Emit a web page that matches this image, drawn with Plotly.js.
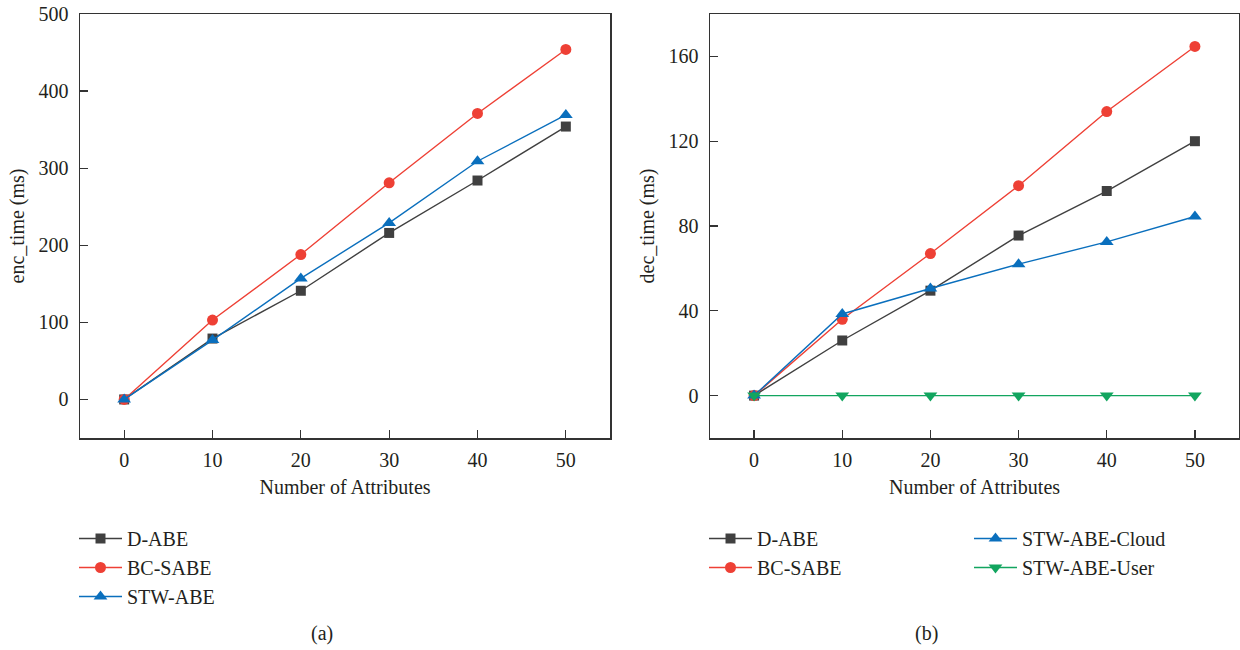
<!DOCTYPE html>
<html>
<head>
<meta charset="utf-8">
<script src="https://cdn.plot.ly/plotly-3.0.1.min.js"></script>
<style>html,body{margin:0;padding:0;background:#fff;}#chart{width:1240px;height:650px;}</style>
</head>
<body>
<div id="chart"></div>
<script>
// ---- data ----
const attributes = [0, 10, 20, 30, 40, 50];

// (a) encryption time (ms)
const encDABE   = [0, 79, 141, 216, 284, 354];
const encBCSABE = [0, 103, 188, 281, 371, 454];
const encSTWABE = [0, 77, 157, 229, 309, 369];

// (b) decryption time (ms)
const decDABE      = [0, 26, 49.5, 75.5, 96.5, 120];
const decBCSABE    = [0, 36, 67, 99, 134, 164.7];
const decSTWCloud  = [0, 38.5, 50.5, 62, 72.5, 84.5];
const decSTWUser   = [0, 0, 0, 0, 0, 0];

const xTickVals = [0, 10, 20, 30, 40, 50];
const encTickVals = [0, 100, 200, 300, 400, 500];
const decTickVals = [0, 40, 80, 120, 160];

// ---- styles ----
const FONT = 'Liberation Serif, Times New Roman, serif';
const TXT = '#231f20';
const cGray = '#404040', cRed = '#ee4035', cBlue = '#0a6fbd', cGreen = '#12a55f';
const lw = 1.4;

function tr(x, y, name, color, symbol, size, xa, ya, legend) {
  return {
    x: x, y: y, name: name, type: 'scatter', mode: 'lines+markers',
    xaxis: xa, yaxis: ya, legend: legend,
    line: {color: color, width: lw},
    marker: {color: color, symbol: symbol, size: size, line: {width: 0}}
  };
}

const data = [
  tr(attributes, encDABE, 'D-ABE', cGray, 'square', 10, 'x', 'y', 'legend'),
  tr(attributes, encBCSABE, 'BC-SABE', cRed, 'circle', 11, 'x', 'y', 'legend'),
  tr(attributes, encSTWABE, 'STW-ABE', cBlue, 'triangle-up', 12, 'x', 'y', 'legend'),
  tr(attributes, decDABE, 'D-ABE', cGray, 'square', 10, 'x2', 'y2', 'legend2'),
  tr(attributes, decBCSABE, 'BC-SABE', cRed, 'circle', 11, 'x2', 'y2', 'legend2'),
  tr(attributes, decSTWCloud, 'STW-ABE-Cloud', cBlue, 'triangle-up', 12, 'x2', 'y2', 'legend3'),
  tr(attributes, decSTWUser, 'STW-ABE-User', cGreen, 'triangle-down', 12, 'x2', 'y2', 'legend3')
];

const W = 1240, TOP = 14, BOT = 438, PH = BOT - TOP;
const py = p => (BOT - p) / PH;

function xAxis(domain, anchor) {
  return {
    domain: domain, anchor: anchor, range: [-5, 55],
    tickvals: xTickVals, ticks: 'inside', ticklen: 8, tickwidth: 1.3, tickcolor: '#333',
    showline: true, linecolor: '#333', linewidth: 1.5, mirror: true,
    showgrid: false, zeroline: false, ticklabelstandoff: 3,
    tickfont: {family: FONT, size: 20, color: TXT},
    title: {text: 'Number of Attributes', font: {family: FONT, size: 20, color: TXT}, standoff: 10}
  };
}
function yAxis(range, tickvals, title, anchor) {
  return {
    anchor: anchor, range: range, tickvals: tickvals,
    ticks: 'inside', ticklen: 8, tickwidth: 1.3, tickcolor: '#333',
    showline: true, linecolor: '#333', linewidth: 1.5, mirror: true,
    showgrid: false, zeroline: false, ticklabelstandoff: 6,
    tickfont: {family: FONT, size: 20, color: TXT},
    title: {text: title, font: {family: FONT, size: 20, color: TXT}, standoff: 8}
  };
}

const legendBase = {
  orientation: 'v', xanchor: 'left', yanchor: 'top',
  font: {family: FONT, size: 20, color: TXT},
  bgcolor: 'rgba(0,0,0,0)', borderwidth: 0, tracegroupgap: 0, itemclick: false,
  itemwidth: 43
};

const layout = {
  width: W, height: 650,
  margin: {l: 0, r: 0, t: TOP, b: 650 - BOT, pad: 0},
  paper_bgcolor: '#fff', plot_bgcolor: '#fff',
  showlegend: true,
  xaxis: xAxis([80 / W, 610 / W], 'y'),
  yaxis: yAxis([-50, 500], encTickVals, 'enc_time (ms)', 'x'),
  xaxis2: xAxis([710 / W, 1239 / W], 'y2'),
  yaxis2: yAxis([-20, 180], decTickVals, 'dec_time (ms)', 'x2'),
  legend:  Object.assign({}, legendBase, {x: 74 / W, y: py(519)}),
  legend2: Object.assign({}, legendBase, {x: 704 / W, y: py(519)}),
  legend3: Object.assign({}, legendBase, {x: 969 / W, y: py(519)}),
  annotations: [
    {text: '(a)', xref: 'paper', yref: 'paper', x: 309 / W, y: py(633), yanchor: 'middle', showarrow: false,
     font: {family: FONT, size: 20, color: TXT}},
    {text: '(b)', xref: 'paper', yref: 'paper', x: 940 / W, y: py(633), yanchor: 'middle', showarrow: false,
     font: {family: FONT, size: 20, color: TXT}}
  ]
};

Plotly.newPlot('chart', data, layout, {displayModeBar: false, staticPlot: true});
</script>
</body>
</html>
